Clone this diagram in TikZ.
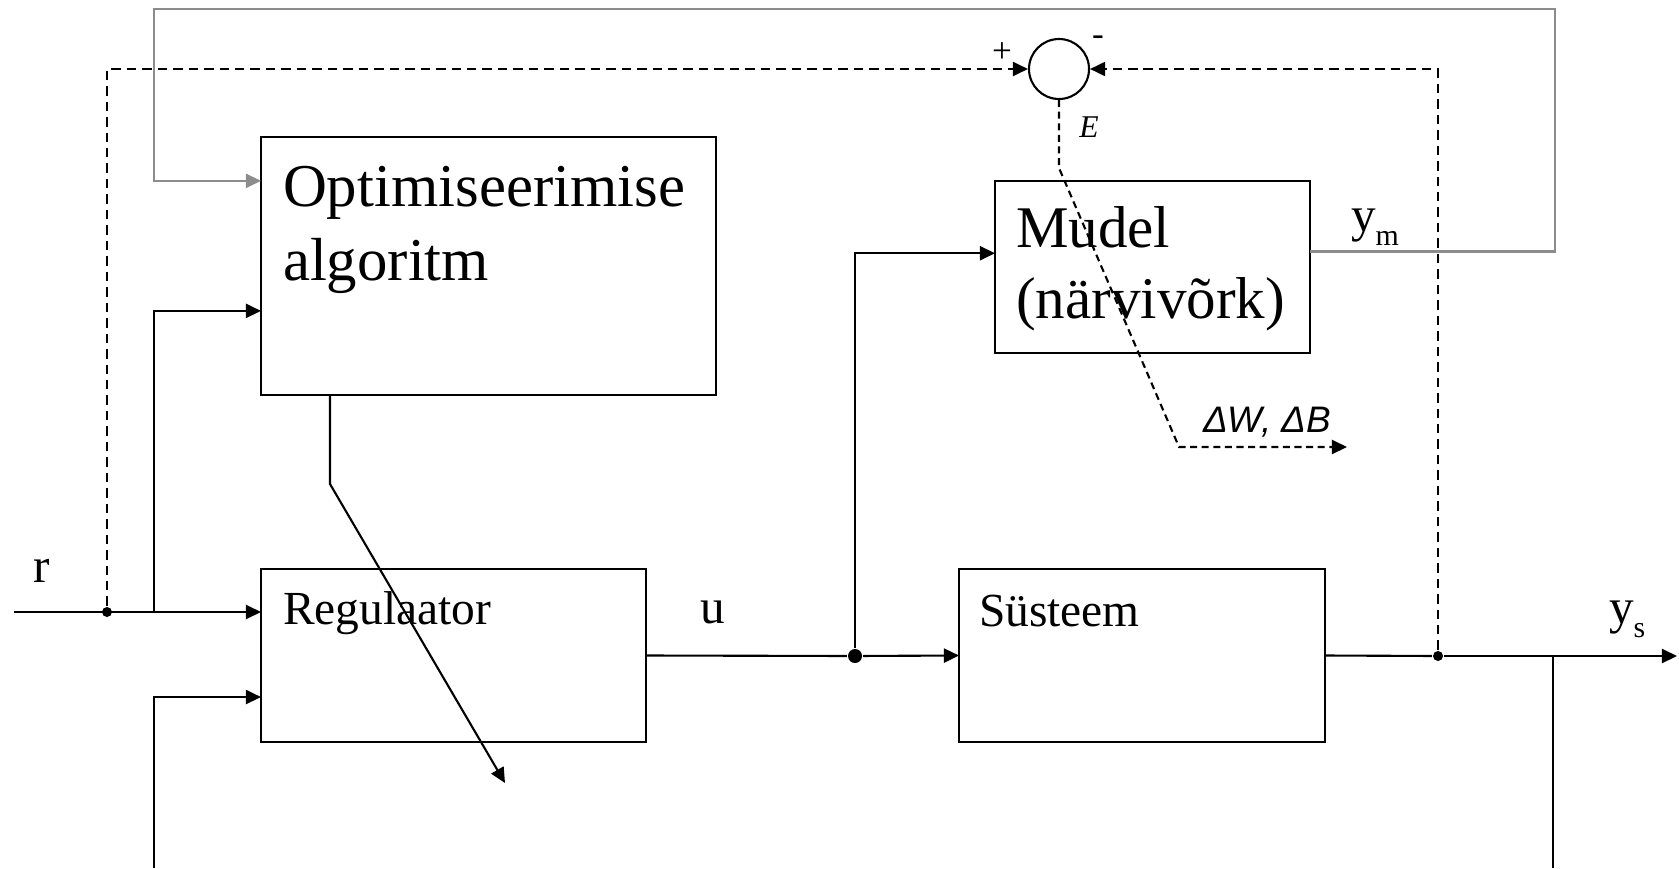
\documentclass[tikz,border=0pt]{standalone}
\usepackage{fontspec}
\setmainfont{Liberation Serif}
\newfontfamily\arialfont{Liberation Sans}
\usepackage{tikz}
\usetikzlibrary{arrows.meta,calc}
\tikzset{
  arr/.style={-{Triangle[length=4.3pt,width=4pt]}},
  blok/.style={draw,rectangle,inner sep=0pt,outer sep=0pt},
  fbline/.style={dash pattern=on 2.7pt off 1.7pt},
  eline/.style={dash pattern=on 2pt off 1.3pt},
  gline/.style={draw=black!45},
  jdot/.style={circle,fill=black,inner sep=0pt,minimum size=1mm},
  lbl/.style={font={\fontsize{14pt}{16pt}\selectfont}}}

\begin{document}
\begin{tikzpicture}[x=0.1mm,y=-0.1mm,line width=0.6pt]
\tikzstyle{every node}+=[inner sep=0pt]
\useasboundingbox (0,0) rectangle (1679,868);
\node[blok,minimum width=45.5mm,minimum height=25.8mm] (opt) at (488.5,266) {};
\node[blok,minimum width=38.5mm,minimum height=17.3mm] (reg) at (453.5,655.5) {};
\node[blok,minimum width=36.6mm,minimum height=17.3mm] (sys) at (1142,655.5) {};
\node[blok,minimum width=31.5mm,minimum height=17.2mm] (mud) at (1152.5,267) {};
\node[draw,circle,minimum size=6mm] (sum) at (1059,69) {};
\node[anchor=base west,align=left,font={\fontsize{17.3pt}{21pt}\selectfont}] (opttxt) at (282,280) {Optimiseerimise\\algoritm};
\node[anchor=base west,align=left,font={\fontsize{16.8pt}{20pt}\selectfont}] (mudtxt) at (1015,318) {Mudel\\(närvivõrk)};
\node[anchor=base west,font={\fontsize{13.5pt}{16pt}\selectfont}] (regtxt) at (282,624) {Regulaator};
\node[anchor=base west,font={\fontsize{13.5pt}{16pt}\selectfont}] (systxt) at (978,626) {Süsteem};
\node[lbl,anchor=base] (rlbl) at (42,582) {r};
\node[lbl,anchor=base] (ulbl) at (713,623) {u};
\node[lbl,anchor=base west] (ymlbl) at (1350,231) {y\raisebox{-4pt}{\fontsize{8.5pt}{9pt}\selectfont m}};
\node[lbl,anchor=base west] (yslbl) at (1608,623) {y\raisebox{-4pt}{\fontsize{8.5pt}{9pt}\selectfont s}};
\node[font={\fontsize{10pt}{10pt}\selectfont}] (plus) at (1002,53) {+};
\node[font={\fontsize{10pt}{10pt}\selectfont}] (minus) at (1098,41) {-};
\node[anchor=base,font={\fontsize{9pt}{9pt}\selectfont\itshape}] (elbl) at (1089,137) {E};
\node[anchor=base west,font={\arialfont\itshape\fontsize{10.5pt}{12pt}\selectfont}] (dwlbl) at (1202,432) {ΔW, ΔB};
\node[jdot] (rdot) at (107,612) {};
\node[jdot,minimum size=1.4mm] (udot) at (855,656) {};
\node[jdot] (ydot) at (1438,656) {};
\coordinate (rin) at (14,612);
\coordinate (rsplit) at (154,612);
\coordinate (optin1) at ($(opt.north west)!0.17!(opt.south west)$);
\coordinate (optin2) at ($(opt.north west)!0.674!(opt.south west)$);
\coordinate (regin2) at ($(reg.north west)!0.74!(reg.south west)$);
\coordinate (mudin) at ($(mud.north west)!0.42!(mud.south west)$);
\coordinate (mudout) at ($(mud.north east)!0.41!(mud.south east)$);
\coordinate (tl) at (154,9);
\coordinate (tr) at (1555,9);
\coordinate (fbl) at (154,868);
\coordinate (fbr) at (1553,868);
\coordinate (yout) at (1677,656);
\coordinate (ebend) at (1059,168);
\coordinate (dwb) at (1179,447);
\coordinate (dwend) at (1347,447);
\coordinate (tune1) at (330,484);
\coordinate (tune2) at (505,783);
\draw[arr] (rin) -- (rin -| reg.west);
\draw[arr] (rsplit) |- (optin2);
\draw[arr] (fbl) |- (regin2);
\draw (reg.east) -- (udot);
\draw[arr] (udot) -- (sys.west);
\draw[arr] (udot) |- (mudin);
\draw (sys.east) -- (ydot);
\draw[arr] (ydot) -- (yout);
\draw (fbr |- yout) -- (fbr);
\draw[gline,arr] (mudout) -| (tr) -- (tl) |- (optin1);
\draw[fbline,arr] (rdot) |- (sum.west);
\draw[fbline,arr] (ydot) |- (sum.east);
\draw[eline,arr] (sum.south) -- (ebend) -- (dwb) -- (dwend);
\draw[arr] (tune1 |- opt.south) -- (tune1) -- (tune2);
\end{tikzpicture}
\end{document}
